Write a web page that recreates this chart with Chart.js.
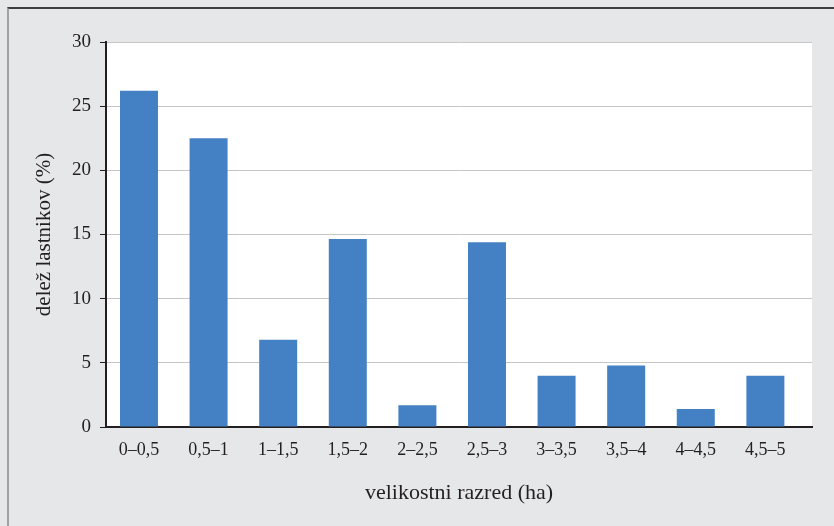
<!DOCTYPE html>
<html>
<head>
<meta charset="utf-8">
<script src="https://cdn.jsdelivr.net/npm/chart.js@4.4.0/dist/chart.umd.min.js"></script>
<style>
  html, body { margin: 0; padding: 0; background: #e6e7e8; }
  #wrap { position: relative; width: 834px; height: 526px; }
  #frame { position: absolute; left: 7px; top: 7px; right: 0; bottom: 0;
           border-top: 2px solid #3d3d3d; border-left: 2px solid #a3a3a3; pointer-events: none; }
</style>
</head>
<body>
<div id="wrap">
  <canvas id="chart" width="834" height="526"></canvas>
  <div id="frame"></div>
</div>
<script>
var categories = ['0–0,5', '0,5–1', '1–1,5', '1,5–2', '2–2,5', '2,5–3', '3–3,5', '3,5–4', '4–4,5', '4,5–5'];
var shares = [26.2, 22.5, 6.8, 14.65, 1.7, 14.4, 4.0, 4.8, 1.4, 4.0];
var yTicks = [0, 5, 10, 15, 20, 25, 30];

var textColor = '#231f20';
var serif = "'Liberation Serif', 'DejaVu Serif', serif";

var points = shares.map(function(v, i) { return { x: i, y: v }; });

var plotBg = {
  id: 'plotBg',
  beforeDraw: function(chart) {
    var a = chart.chartArea, ctx = chart.ctx;
    ctx.save();
    ctx.fillStyle = '#ffffff';
    ctx.fillRect(a.left, a.top, a.right - a.left, a.bottom - a.top);
    ctx.restore();
  }
};

new Chart(document.getElementById('chart').getContext('2d'), {
  type: 'bar',
  data: {
    datasets: [{
      data: points,
      backgroundColor: '#4480c4',
      borderWidth: 0,
      categoryPercentage: 0.546,
      barPercentage: 1
    }]
  },
  options: {
    responsive: false,
    animation: false,
    layout: { padding: { left: 0, top: 42, right: 22, bottom: 0 } },
    plugins: { legend: { display: false }, tooltip: { enabled: false } },
    scales: {
      x: {
        type: 'linear',
        offset: false,
        min: -0.474,
        max: 9.67,
        grid: { display: false, drawTicks: false },
        border: { display: true, color: textColor, width: 2 },
        ticks: {
          stepSize: 1,
          includeBounds: false,
          autoSkip: false,
          maxRotation: 0,
          padding: 12,
          color: textColor,
          font: { family: serif, size: 18 },
          callback: function(v) { return Number.isInteger(v) ? categories[v] : ''; }
        },
        title: {
          display: true,
          text: 'velikostni razred (ha)',
          color: textColor,
          font: { family: serif, size: 22 },
          padding: { top: 0, bottom: 20 }
        },
        afterFit: function(s) { s.height = 99; }
      },
      y: {
        min: 0,
        max: 30,
        afterBuildTicks: function(s) { s.ticks = yTicks.map(function(v) { return { value: v }; }); },
        grid: { color: '#c6c6c6', lineWidth: 1, tickColor: textColor, tickLength: 6 },
        border: { display: true, color: textColor, width: 2 },
        ticks: {
          padding: 9,
          color: textColor,
          font: { family: serif, size: 19 }
        },
        title: {
          display: true,
          text: 'delež lastnikov (%)',
          color: textColor,
          font: { family: serif, size: 21 },
          padding: { top: 32, bottom: 0 }
        },
        afterFit: function(s) { s.width = 106; }
      }
    }
  },
  plugins: [plotBg]
});
</script>
</body>
</html>
